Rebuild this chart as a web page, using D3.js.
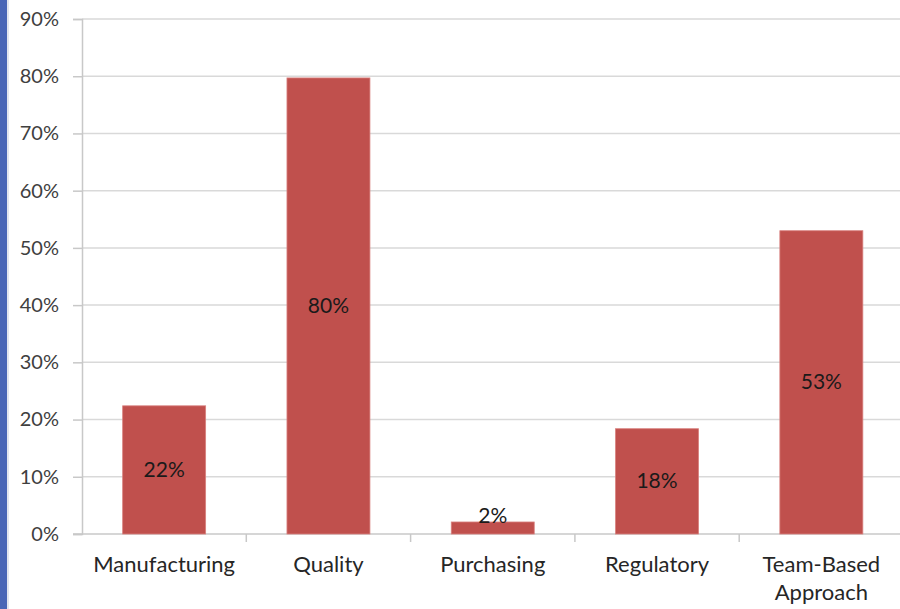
<!DOCTYPE html>
<html>
<head>
<meta charset="utf-8">
<script src="https://cdn.jsdelivr.net/npm/d3@7"></script>
<style>
  html, body { margin: 0; padding: 0; background: #fff; }
  svg { display: block; }
  text { font-family: Lato, "Open Sans", sans-serif; }
</style>
</head>
<body>
<svg id="chart" width="900" height="609"></svg>
<script>
const categories = ["Manufacturing", "Quality", "Purchasing", "Regulatory", "Team-Based Approach"];
const values = [0.224, 0.797, 0.021, 0.184, 0.530];
const yTicks = [0, 0.1, 0.2, 0.3, 0.4, 0.5, 0.6, 0.7, 0.8, 0.9];

const svg = d3.select("#chart");
const W = 900, H = 609;
const mLeft = 82, mRight = 903.5, mTop = 19, mBottom = 534;

// left decorative strip
svg.append("rect").attr("x", 0).attr("y", 0).attr("width", 7).attr("height", H).attr("fill", "#4a66b6");
svg.append("rect").attr("x", 7).attr("y", 0).attr("width", 2).attr("height", H).attr("fill", "#e4e6ee");

const x = d3.scaleBand().domain(categories).range([mLeft, mRight]).paddingInner(0.495).paddingOuter(0.2475);
const y = d3.scaleLinear().domain([0, 0.9]).range([mBottom, mTop]);

// gridlines
svg.append("g").selectAll("line").data(yTicks.filter(d => d > 0)).join("line")
  .attr("x1", mLeft).attr("x2", W)
  .attr("y1", d => y(d)).attr("y2", d => y(d))
  .attr("stroke", "#d9d9d9").attr("stroke-width", 1.5);

// y axis
const yAxis = d3.axisLeft(y).tickValues(yTicks).tickFormat(d3.format(".0%")).tickSize(9).tickPadding(14);
const gy = svg.append("g").attr("transform", `translate(${mLeft},0)`).call(yAxis);
gy.select(".domain").attr("stroke", "#c8c8c8").attr("stroke-width", 1.5);
gy.selectAll(".tick line").attr("stroke", "#c8c8c8").attr("stroke-width", 1.5);
gy.selectAll(".tick text").attr("fill", "#404040").style("font-size", "20px").style("font-family", "Lato, sans-serif");

// x axis baseline
svg.append("line").attr("x1", mLeft - 9).attr("x2", W).attr("y1", mBottom).attr("y2", mBottom)
  .attr("stroke", "#c8c8c8").attr("stroke-width", 1.5);
// category boundary ticks
const step = x.step();
svg.append("g").selectAll("line").data(categories).join("line")
  .attr("x1", d => x(d) - x.paddingInner() * step / 2 + step)
  .attr("x2", d => x(d) - x.paddingInner() * step / 2 + step)
  .attr("y1", mBottom).attr("y2", mBottom + 8)
  .attr("stroke", "#c8c8c8").attr("stroke-width", 1.5);

// bars
svg.append("g").selectAll("rect").data(categories).join("rect")
  .attr("x", d => x(d))
  .attr("width", x.bandwidth())
  .attr("y", (d, i) => y(values[i]))
  .attr("height", (d, i) => y(0) - y(values[i]))
  .attr("fill", "#c0504d")
  .attr("stroke", "#d8807e").attr("stroke-width", 0.8);

// data labels
svg.append("g").selectAll("text").data(categories).join("text")
  .attr("x", d => x(d) + x.bandwidth() / 2)
  .attr("y", (d, i) => {
    const h = y(0) - y(values[i]);
    return h < 30 ? y(values[i]) + 1 : (y(0) + y(values[i])) / 2 + 7;
  })
  .attr("text-anchor", "middle")
  .attr("fill", "#1a1a1a")
  .style("font-size", "21px")
  .text((d, i) => Math.round(values[i] * 100) + "%");

// category labels
const xl = svg.append("g").selectAll("text").data(categories).join("text")
  .attr("x", d => x(d) + x.bandwidth() / 2)
  .attr("y", 572)
  .attr("text-anchor", "middle")
  .attr("fill", "#262626")
  .style("font-size", "22px");
xl.each(function(d) {
  const t = d3.select(this);
  const parts = d === "Team-Based Approach" ? ["Team-Based", "Approach"] : [d];
  parts.forEach((p, i) => {
    t.append("tspan").attr("x", t.attr("x")).attr("dy", i === 0 ? 0 : 28).text(p);
  });
});
</script>
</body>
</html>
